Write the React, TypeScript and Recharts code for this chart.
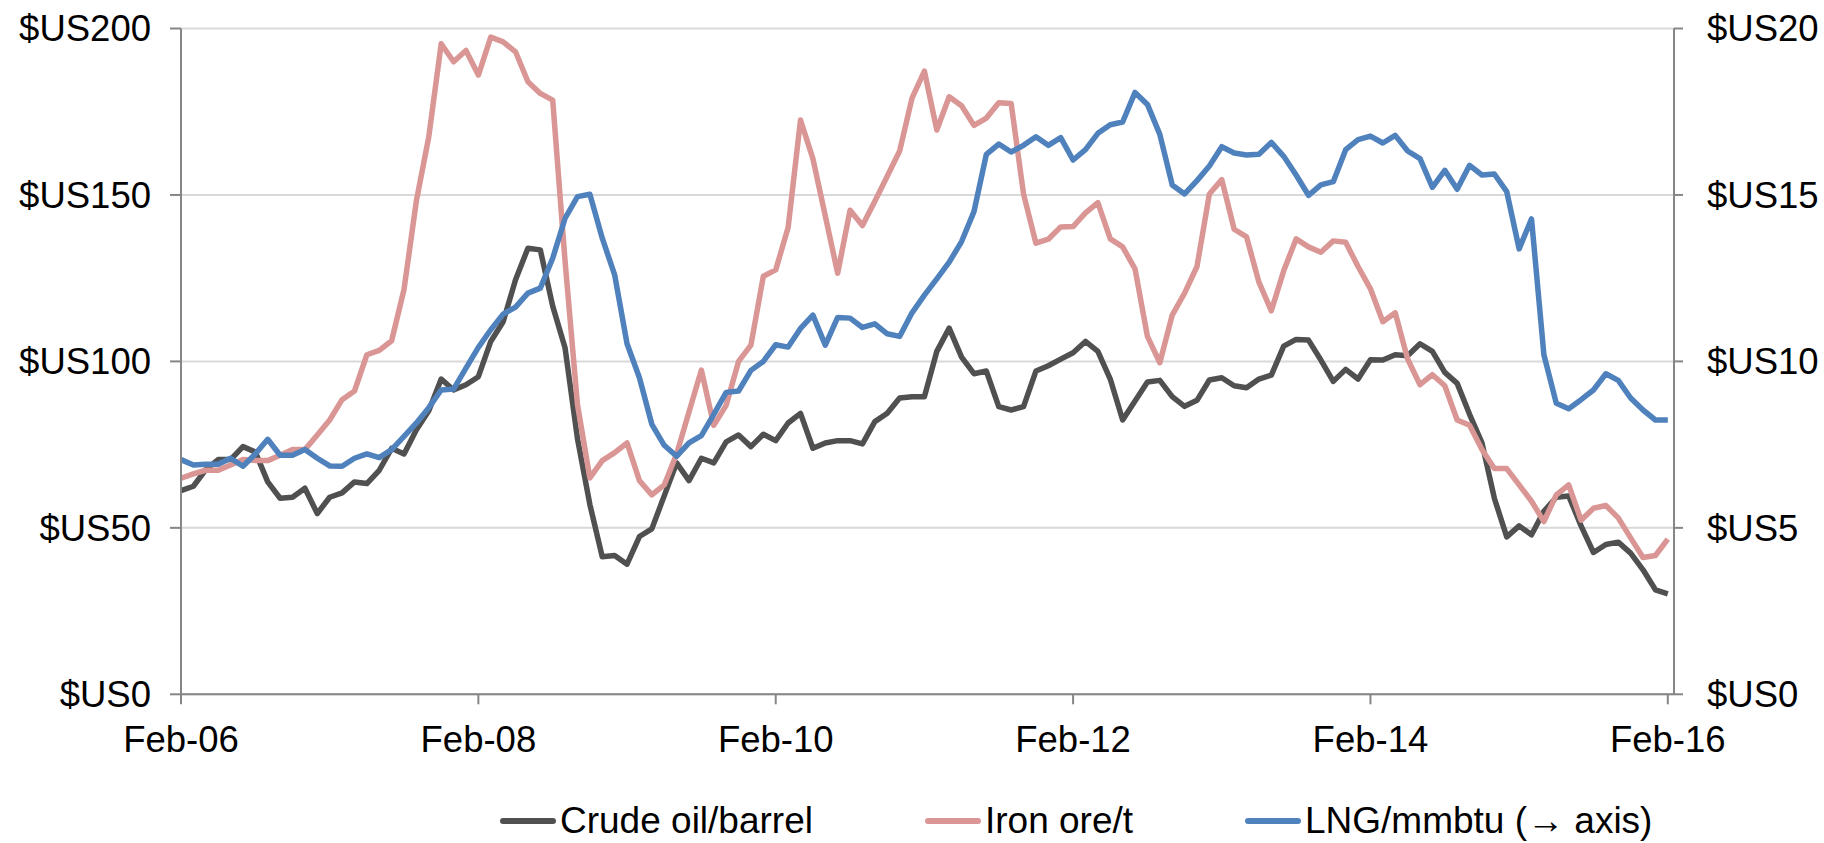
import { LineChart, Line, XAxis, YAxis, CartesianGrid } from 'recharts';

// monthly, Feb-06 .. Feb-16 (121 points), x = month index
const crudeOil = [
  61.2, 62.5, 67.5, 70.5, 70.5, 74.4, 72.8, 63.8, 58.9, 59.2, 61.9, 54.3,
  59.2, 60.5, 63.8, 63.3, 67.3, 73.9, 72.2, 79.5, 85.2, 94.7, 91.4, 93.0,
  95.4, 106, 111.9, 124.5, 134, 133.5, 116.6, 104, 76.8, 57, 41.3, 41.7,
  39.1, 47.4, 49.7, 59.6, 69.5, 64.2, 70.9, 69.5, 75.8, 77.9, 74.4, 78.1,
  76.2, 81.5, 84.4, 73.9, 75.5, 76.2, 76.2, 75.2, 81.9, 84.4, 89, 89.4,
  89.4, 103, 110, 101.3, 96.3, 97.1, 86.4, 85.4, 86.4, 97.1, 98.7, 100.7,
  102.6, 106, 103, 94.7, 82.4, 88.1, 93.8, 94.3, 89.4, 86.5, 88.3, 94.4,
  95.1, 92.7, 92.1, 94.7, 95.9, 104.6, 106.6, 106.4, 100.4, 94, 97.6, 94.7,
  100.5, 100.4, 102, 101.7, 105.3, 103, 96.7, 93.4, 84.1, 75.5, 58.9, 47.3,
  50.6, 47.9, 55, 59.2, 59.6, 50.6, 42.6, 45, 45.7, 42.4, 37.4, 31.4,
  30.2,
];

const ironOre = [
  64.9, 66.2, 67.3, 67.3, 68.9, 70.5, 70.2, 70.2, 71.8, 73.5, 73.5, 77.9,
  82.4, 88.5, 91.1, 102, 103.3, 106.2, 121.6, 148.3, 167.5, 195.4, 190, 193.4,
  186, 197.4, 196, 193, 184, 180.5, 178.5, 130, 87, 65, 70.2, 72.6,
  75.5, 64.2, 59.9, 62.9, 72.2, 84.8, 97.4, 80.8, 86.8, 100, 104.9, 125.6,
  127.5, 140.2, 172.5, 160.9, 143.7, 126.5, 145.4, 140.8, 148.1, 155.6, 163.2, 179.1,
  187.2, 169.5, 179.5, 176.8, 170.9, 173.1, 177.7, 177.5, 150.3, 135.5, 136.7, 140.4,
  140.5, 144.6, 147.7, 136.8, 134.4, 127.8, 107.5, 99.6, 113.9, 120.5, 128.5, 150.3,
  154.6, 139.7, 137.4, 123.8, 115.2, 127.2, 136.8, 134.4, 132.8, 136.2, 135.8, 128.5,
  121.8, 111.9, 114.6, 100.7, 93, 96, 92.7, 82.4, 80.8, 73.5, 67.8, 67.8,
  62.9, 58, 51.9, 59.9, 62.9, 52.3, 55.9, 56.7, 53, 47, 41.1, 41.7,
  46.6,
];

const lng = [
  7.05, 6.89, 6.91, 6.91, 7.09, 6.85, 7.22, 7.66, 7.18, 7.18, 7.35, 7.09,
  6.86, 6.85, 7.09, 7.22, 7.11, 7.35, 7.75, 8.15, 8.61, 9.14, 9.17, 9.8,
  10.42, 10.95, 11.42, 11.63, 12.05, 12.2, 13.1, 14.3, 14.95, 15.02, 13.7, 12.6,
  10.53, 9.51, 8.11, 7.48, 7.15, 7.55, 7.77, 8.41, 9.07, 9.11, 9.73, 10.0,
  10.5, 10.43, 10.99, 11.39, 10.49, 11.32, 11.3, 11.02, 11.13, 10.83, 10.75, 11.46,
  11.99, 12.48, 12.98, 13.6, 14.5, 16.22, 16.53, 16.29, 16.49, 16.75, 16.49, 16.72,
  16.05, 16.36, 16.85, 17.11, 17.19, 18.08, 17.72, 16.82, 15.3, 15.03, 15.43, 15.87,
  16.45, 16.26, 16.2, 16.22, 16.58, 16.16, 15.6, 14.99, 15.3, 15.4, 16.36, 16.66,
  16.77, 16.56, 16.79, 16.32, 16.09, 15.23, 15.74, 15.17, 15.89, 15.6, 15.63, 15.1,
  13.38, 14.28, 10.2, 8.74, 8.58, 8.85, 9.14, 9.63, 9.43, 8.9, 8.54, 8.24,
  8.24,
];

const xTicks = [0, 24, 48, 72, 96, 120];
const xTickLabels = ['Feb-06', 'Feb-08', 'Feb-10', 'Feb-12', 'Feb-14', 'Feb-16'];
const leftTicks = [0, 50, 100, 150, 200];
const rightTicks = [0, 5, 10, 15, 20];

const seriesNames = ['Crude oil/barrel', 'Iron ore/t', 'LNG/mmbtu (\u2192 axis)'];
const seriesColors = ['#505050', '#d99694', '#4f81bd'];

const data = crudeOil.map((v, i) => ({
  i,
  crude: v,
  iron: ironOre[i],
  lng: lng[i],
}));

const FONT = '"Liberation Sans", Arial, sans-serif';
const tickStyle = { fill: '#000', fontSize: 36.5, fontFamily: FONT };
const axisStroke = { stroke: '#868686', strokeWidth: 2 };

export default function App() {
  const legendLeft = [500, 925, 1245];

  return (
    <div
      style={{
        position: 'absolute',
        left: 0,
        top: 0,
        width: 1824,
        height: 843,
        overflow: 'hidden',
        background: '#fff',
        fontFamily: FONT,
      }}
    >
      <LineChart
        width={1824}
        height={843}
        data={data}
        margin={{ top: 28.5, right: 0, bottom: 98.7, left: 0 }}
      >
        <CartesianGrid yAxisId="left" vertical={false} stroke="#d9d9d9" strokeWidth={2} />
        <XAxis
          dataKey="i"
          type="number"
          domain={[0, 120.5]}
          ticks={xTicks}
          interval={0}
          height={50}
          tickFormatter={(v: number) => xTickLabels[xTicks.indexOf(v)]}
          tick={tickStyle}
          axisLine={axisStroke}
          tickLine={axisStroke}
          tickSize={10}
          tickMargin={22}
        />
        <YAxis
          yAxisId="left"
          domain={[0, 200]}
          ticks={leftTicks}
          interval={0}
          width={181}
          tickFormatter={(v: number) => `$US${v}`}
          tick={tickStyle}
          axisLine={axisStroke}
          tickLine={axisStroke}
          tickSize={11}
          tickMargin={19}
        />
        <YAxis
          yAxisId="right"
          orientation="right"
          domain={[0, 20]}
          ticks={rightTicks}
          interval={0}
          width={150}
          tickFormatter={(v: number) => `$US${v}`}
          tick={tickStyle}
          axisLine={axisStroke}
          tickLine={axisStroke}
          tickSize={9}
          tickMargin={24}
        />
        <Line
          yAxisId="left"
          dataKey="crude"
          type="linear"
          stroke={seriesColors[0]}
          strokeWidth={5.5}
          strokeLinejoin="round"
          dot={false}
          isAnimationActive={false}
        />
        <Line
          yAxisId="left"
          dataKey="iron"
          type="linear"
          stroke={seriesColors[1]}
          strokeWidth={5.5}
          strokeLinejoin="round"
          dot={false}
          isAnimationActive={false}
        />
        <Line
          yAxisId="right"
          dataKey="lng"
          type="linear"
          stroke={seriesColors[2]}
          strokeWidth={5.5}
          strokeLinejoin="round"
          dot={false}
          isAnimationActive={false}
        />
      </LineChart>

      {seriesNames.map((name, k) => (
        <div
          key={name}
          style={{
            position: 'absolute',
            left: legendLeft[k],
            top: 801,
            height: 40,
            display: 'flex',
            alignItems: 'center',
            fontSize: 37,
            lineHeight: '40px',
            color: '#000',
            whiteSpace: 'nowrap',
          }}
        >
          <span
            style={{
              display: 'inline-block',
              width: 56,
              height: 6,
              borderRadius: 3,
              background: seriesColors[k],
              marginRight: 4,
            }}
          />
          <span>{name}</span>
        </div>
      ))}
    </div>
  );
}
